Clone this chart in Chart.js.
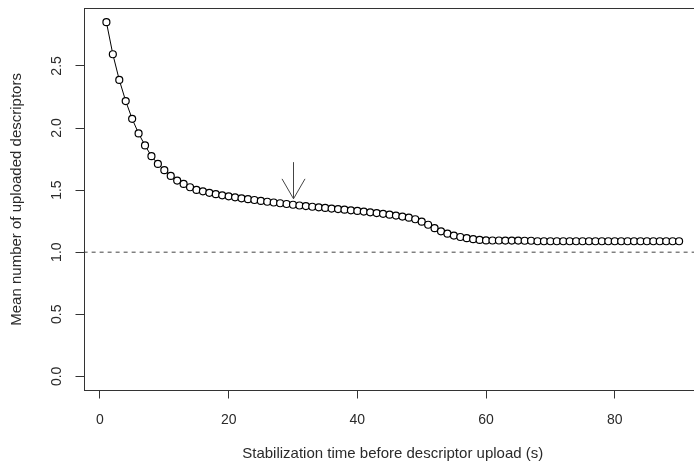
<!DOCTYPE html>
<html>
<head>
<meta charset="utf-8">
<script src="https://cdn.jsdelivr.net/npm/chart.js@4.4.1/dist/chart.umd.min.js"></script>
<style>
  html, body { margin: 0; padding: 0; background: #fff; overflow: hidden; }
  #wrap { width: 720px; height: 470px; }
</style>
</head>
<body>
<div id="wrap"><canvas id="descChart" width="720" height="470"></canvas></div>
<script>
// Stabilization time (s)
const stabTimes = [];
for (let t = 1; t <= 90; t++) stabTimes.push(t);

// Mean number of uploaded descriptors
const meanUploads = [
  2.852, 2.594, 2.387, 2.217, 2.074, 1.956, 1.860, 1.773, 1.711, 1.660,
  1.614, 1.577, 1.550, 1.523, 1.501, 1.490, 1.478, 1.467, 1.458, 1.450,
  1.442, 1.434, 1.427, 1.420, 1.413, 1.406, 1.400, 1.394, 1.388, 1.382,
  1.376, 1.371, 1.366, 1.361, 1.356, 1.351, 1.347, 1.342, 1.337, 1.332,
  1.327, 1.321, 1.315, 1.309, 1.302, 1.295, 1.287, 1.278, 1.265, 1.246,
  1.221, 1.193, 1.168, 1.149, 1.134, 1.122, 1.113, 1.105, 1.099, 1.095,
  1.094, 1.094, 1.093, 1.093, 1.093, 1.092, 1.092, 1.088, 1.088, 1.088,
  1.088, 1.088, 1.088, 1.088, 1.088, 1.088, 1.088, 1.088, 1.088, 1.088,
  1.088, 1.088, 1.088, 1.088, 1.088, 1.088, 1.088, 1.088, 1.088, 1.088
];

const xTicks = [0, 20, 40, 60, 80];
const yTicks = [0.0, 0.5, 1.0, 1.5, 2.0, 2.5];
const yTickLabels = ['0.0', '0.5', '1.0', '1.5', '2.0', '2.5'];

// reference level (dashed) and the arrow marker
const refLevel = 1.0;
const arrowX = 30;
const arrowFrom = 1.725;
const arrowTo = 1.43;

const xTitle = 'Stabilization time before descriptor upload (s)';
const yTitle = 'Mean number of uploaded descriptors';

document.addEventListener('DOMContentLoaded', () => {
    const ctx = document.getElementById('descChart');

    const textColor = '#2a2a2a';
    const axisColor = '#333';

    // box, arrow and all axis texts (R style)
    const rPlot = {
        id: 'rPlot',
        afterDraw(chart) {
            const c = chart.ctx;
            const a = chart.chartArea;
            const xs = chart.scales.x;
            const ys = chart.scales.y;
            c.save();

            // frame
            c.strokeStyle = axisColor;
            c.lineWidth = 1;
            c.strokeRect(Math.round(a.left) + 0.5, Math.round(a.top) + 0.5,
                Math.round(a.right - a.left), Math.round(a.bottom - a.top));

            // arrow
            const ax = Math.round(xs.getPixelForValue(arrowX)) + 0.5;
            const y1 = ys.getPixelForValue(arrowFrom);
            const y2 = ys.getPixelForValue(arrowTo);
            c.strokeStyle = '#444';
            c.beginPath();
            c.moveTo(ax, y1);
            c.lineTo(ax, y2);
            const len = 23, ang = Math.PI / 6;
            c.moveTo(ax - len * Math.sin(ang), y2 - len * Math.cos(ang));
            c.lineTo(ax, y2);
            c.lineTo(ax + len * Math.sin(ang), y2 - len * Math.cos(ang));
            c.stroke();

            c.fillStyle = textColor;
            c.font = '14px "Liberation Sans", Arial, sans-serif';
            c.textAlign = 'center';
            c.textBaseline = 'middle';
            xTicks.forEach(v => {
                c.fillText(String(v), xs.getPixelForValue(v), 420);
            });
            yTicks.forEach((v, i) => {
                c.save();
                c.translate(57, ys.getPixelForValue(v));
                c.rotate(-Math.PI / 2);
                c.fillText(yTickLabels[i], 0, 0);
                c.restore();
            });

            c.font = '15px "Liberation Sans", Arial, sans-serif';
            c.fillText(xTitle, (a.left + a.right) / 2, 454);
            c.save();
            c.translate(17, (a.top + a.bottom) / 2);
            c.rotate(-Math.PI / 2);
            c.fillText(yTitle, 0, 0);
            c.restore();

            c.restore();
        }
    };

    new Chart(ctx, {
        type: 'line',
        data: {
            datasets: [{
                data: stabTimes.map((t, i) => ({ x: t, y: meanUploads[i] })),
                borderColor: '#000',
                borderWidth: 1,
                pointRadius: 3.5,
                pointBorderWidth: 1.2,
                pointBorderColor: '#000',
                pointBackgroundColor: '#fff',
                tension: 0
            }, {
                data: [{ x: -10, y: refLevel }, { x: 110, y: refLevel }],
                borderColor: '#444',
                borderWidth: 1,
                borderDash: [4, 4],
                pointRadius: 0
            }]
        },
        options: {
            responsive: false,
            animation: false,
            layout: { padding: { top: 8.3, right: 18, left: 0, bottom: 0 } },
            plugins: {
                legend: { display: false },
                tooltip: { enabled: false }
            },
            scales: {
                x: {
                    type: 'linear',
                    min: -2.56,
                    max: 93.56,
                    afterBuildTicks: s => { s.ticks = xTicks.map(v => ({ value: v })); },
                    afterFit: s => { s.height = 79.5; },
                    ticks: { display: false },
                    grid: { drawOnChartArea: false, drawTicks: true, tickLength: 8, color: axisColor },
                    border: { display: false }
                },
                y: {
                    type: 'linear',
                    min: -0.114,
                    max: 2.964,
                    afterBuildTicks: s => { s.ticks = yTicks.map(v => ({ value: v })); },
                    afterFit: s => { s.width = 83.5; },
                    ticks: { display: false },
                    grid: { drawOnChartArea: false, drawTicks: true, tickLength: 8, color: axisColor },
                    border: { display: false }
                }
            }
        },
        plugins: [rPlot]
    });
});
</script>
</body>
</html>
